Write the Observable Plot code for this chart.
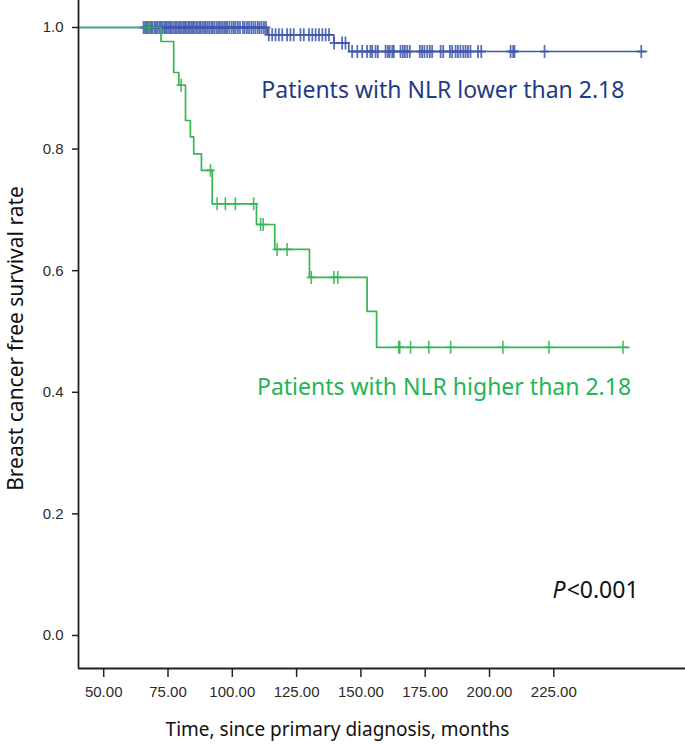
<!DOCTYPE html>
<html><head><meta charset="utf-8">
<script src="https://cdn.jsdelivr.net/npm/d3@7"></script>
<script src="https://cdn.jsdelivr.net/npm/@observablehq/plot@0.6"></script>
<style>
body{margin:0;background:#fff}
g[aria-label$="tick label"], g[aria-label$="tick label"] text { font-size: 15px !important; font-family: 'Liberation Sans', Arial, sans-serif !important; fill: #2a2a2a; }
</style>
</head><body><div id="chart"></div>
<script>
// ---- data ----
const xTicks = [50, 75, 100, 125, 150, 175, 200, 225];
const yTicks = [0, 0.2, 0.4, 0.6, 0.8, 1.0];

// Low NLR group (blue)
const lowEventTimes = [113.6, 139.5, 145.3];
const lowLevels = [0.988, 0.9745, 0.9605];
const lowCensorTimes = [65.5, 66.1, 66.8, 67.2, 67.9, 68.5, 69.0, 69.8, 70.3, 70.9, 71.6, 72.2, 72.7, 73.5, 74.0, 74.6, 75.3, 75.9, 76.4, 77.1, 77.8, 78.3, 79.0, 79.6, 80.2, 80.9, 81.5, 82.0, 82.8, 83.3, 84.0, 84.6, 85.1, 85.9, 86.5, 87.2, 87.7, 88.4, 89.1, 89.6, 90.3, 91.0, 91.8, 92.4, 93.1, 93.9, 94.6, 95.2, 96.0, 96.8, 97.5, 98.1, 98.9, 99.8, 100.6, 101.3, 102.2, 103.0, 104.1, 104.8, 105.7, 106.5, 107.4, 108.2, 109.0, 109.9, 110.6, 111.4, 112.3, 113.1,
  114.2, 115.5, 116.8, 118.1, 119.4, 121.3, 122.6, 123.9, 126.5, 127.8, 129.8, 131.1, 132.4, 133.7, 135.0, 136.3, 137.6,
  139.6, 142.7, 144.0,
  146.6, 148.6, 150.5, 152.4, 153.7, 154.4, 155.7, 156.6, 159.6, 160.5, 161.2, 162.2, 162.8, 165.4, 166.3, 167.1, 168.0, 169.0, 172.9, 173.8, 174.7, 175.8, 176.8, 177.7, 181.0, 182.0, 184.6, 185.5, 186.8, 187.7, 188.7, 189.8, 190.7, 191.6, 192.6, 195.5, 196.8, 208.2, 209.2, 209.7, 221.4, 259.0];
const lowLastTime = 261.1;

// High NLR group (green)
const highEventTimes = [72.3, 77.2, 79.2, 81.8, 83.7, 85.0, 88.0, 92.2, 109.4, 116.5, 130.0, 152.4, 156.1];
const highLevels = [0.977, 0.926, 0.905, 0.847, 0.82, 0.792, 0.765, 0.71, 0.676, 0.635, 0.589, 0.533, 0.474];
const highCensorTimes = [67.4, 80.1, 91.5, 94.1, 97.3, 101.2, 108.3, 111.0, 112.0, 117.4, 121.3, 130.7, 139.5, 141.0, 164.7, 165.1, 169.3, 176.4, 184.9, 205.2, 223.1, 251.9];
const highLastTime = 254.2;

const groupLabels = ["Patients with NLR lower than 2.18", "Patients with NLR higher than 2.18"];
const labelTimes = [111.3, 109.6];
const labelRates = [0.896, 0.408];
const pLabelTime = 229.6, pLabelRate = 0.074;

const blueLine = "#3d57ad", blueText = "#1f3b86";
const greenLine = "#36b552", greenText = "#22b556";

// ---- build tables ----
function curve(events, levels, last) {
  const pts = [{t: 0, s: 1}];
  events.forEach((t, i) => pts.push({t, s: levels[i]}));
  pts.push({t: last, s: levels[levels.length - 1]});
  return pts;
}
function survivalAt(events, levels, t) {
  let s = 1;
  events.forEach((e, i) => { if (e <= t) s = levels[i]; });
  return s;
}
const lowCurve = curve(lowEventTimes, lowLevels, lowLastTime);
const highCurve = curve(highEventTimes, highLevels, highLastTime);
const lowCensors = lowCensorTimes.map(t => ({t, s: survivalAt(lowEventTimes, lowLevels, t)}));
const highCensors = highCensorTimes.map(t => ({t, s: survivalAt(highEventTimes, highLevels, t)}));
const labels = groupLabels.map((text, i) => ({text, t: labelTimes[i], s: labelRates[i], color: i === 0 ? blueText : greenText}));

const censorMark = {draw(ctx) { ctx.moveTo(0, -6.5); ctx.lineTo(0, 6.5); ctx.moveTo(-4.5, 0); ctx.lineTo(4.5, 0); }};

const xDomain = [40.2, 276.2];
const yDomain = [-0.0543, 1.0444];
const tickFont = "'Liberation Sans', Arial, sans-serif";
const textFont = "'Noto Sans', 'Open Sans', sans-serif";

const chart = Plot.plot({
  width: 685, height: 744,
  marginLeft: 78, marginRight: 0, marginTop: 0, marginBottom: 76,
  x: {domain: xDomain},
  y: {domain: yDomain},
  style: {fontFamily: tickFont, fontSize: "15px", background: "#fff", color: "#222"},
  marks: [
    Plot.line(lowCurve, {x: "t", y: "s", curve: "step-after", stroke: blueLine, strokeWidth: 1.5, clip: true}),
    Plot.dot(lowCensors, {x: "t", y: "s", symbol: censorMark, fill: "none", stroke: blueLine, strokeWidth: 1.8, strokeOpacity: 0.85}),
    Plot.line(highCurve, {x: "t", y: "s", curve: "step-after", stroke: greenLine, strokeWidth: 1.7, clip: true}),
    Plot.dot(highCensors, {x: "t", y: "s", symbol: censorMark, fill: "none", stroke: greenLine, strokeWidth: 1.6, strokeOpacity: 0.9}),
    Plot.text(labels, {x: "t", y: "s", text: "text", fill: "color", textAnchor: "start", fontSize: 23, fontFamily: textFont}),
    Plot.text(["P"], {x: pLabelTime, y: pLabelRate, text: d => d, textAnchor: "end", fontSize: 23, fontStyle: "italic", fontFamily: textFont, fill: "#111"}),
    Plot.text(["<0.001"], {x: pLabelTime, y: pLabelRate, text: d => d, textAnchor: "start", dx: 1, fontSize: 23, fontFamily: textFont, fill: "#111"}),
    Plot.axisX({ticks: xTicks, tickFormat: d3.format(".2f"), tickSize: 9, tickPadding: 9, fontSize: 15, label: null, stroke: "#222", strokeWidth: 1.5}),
    Plot.axisY({ticks: yTicks, tickFormat: d3.format(".1f"), tickSize: 6, tickPadding: 9, fontSize: 15, label: null, stroke: "#222", strokeWidth: 1.5}),
    Plot.ruleX([xDomain[0]], {stroke: "#222", strokeWidth: 1.8}),
    Plot.ruleY([yDomain[0]], {stroke: "#222", strokeWidth: 1.8}),
    Plot.text(["Time, since primary diagnosis, months"], {frameAnchor: "bottom", text: d => d, textAnchor: "middle", lineAnchor: "middle", dx: -44.5, dy: 61, fontSize: 19, fontFamily: textFont, fill: "#111"}),
    Plot.text(["Breast cancer free survival rate"], {frameAnchor: "left", text: d => d, textAnchor: "middle", lineAnchor: "middle", rotate: -90, dx: -62, dy: 4, fontSize: 21, fontFamily: textFont, fill: "#111"})
  ]
});
document.getElementById("chart").appendChild(chart);
</script></body></html>
